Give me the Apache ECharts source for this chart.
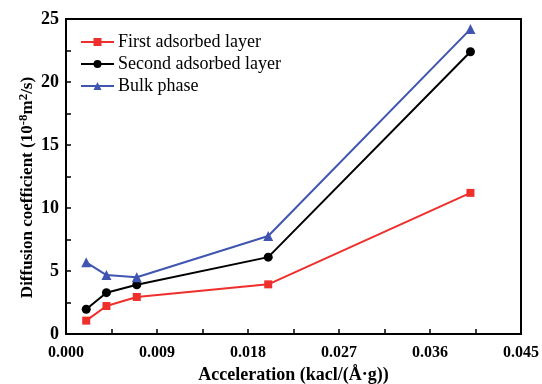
<!DOCTYPE html>
<html>
<head>
<meta charset="utf-8">
<script src="https://cdn.jsdelivr.net/npm/echarts@6/dist/echarts.min.js"></script>
<style>html,body{margin:0;padding:0;background:#fff;}#c{width:542px;height:384px;}</style>
</head>
<body>
<div id="c"></div>
<script>
const xValues = [0.002, 0.004, 0.007, 0.020, 0.040];
const firstLayer = [1.06, 2.22, 2.94, 3.94, 11.2];
const secondLayer = [1.96, 3.28, 3.91, 6.1, 22.4];
const bulkPhase = [5.69, 4.68, 4.5, 7.78, 24.2];
const seriesNames = ['First adsorbed layer', 'Second adsorbed layer', 'Bulk phase'];
const xTicks = [0.000, 0.009, 0.018, 0.027, 0.036, 0.045];

const font = '"Liberation Serif", "Times New Roman", serif';
const pair = (vals) => xValues.map((x, i) => [x, vals[i]]);

const chart = echarts.init(document.getElementById('c'));
chart.setOption({
  animation: false,
  backgroundColor: '#fff',
  grid: { left: 66, right: 21, top: 19, bottom: 50, containLabel: false, outerBoundsMode: 'none',
    show: true, borderColor: '#000', borderWidth: 2, backgroundColor: 'transparent' },
  legend: {
    left: 75, top: 28, orient: 'vertical', itemWidth: 33, itemHeight: 10, itemGap: 4,
    textStyle: { fontFamily: font, fontSize: 18, color: '#000', padding: [0, 0, 0, -1] },
    data: seriesNames
  },
  xAxis: {
    type: 'value', min: 0, max: 0.045, interval: 0.009,
    name: 'Acceleration (kacl/(Å·g))', nameLocation: 'middle', nameGap: 32, nameMoveOverlap: false,
    nameTextStyle: { fontFamily: font, fontSize: 18, fontWeight: 'bold', color: '#000' },
    axisLine: { lineStyle: { color: '#000', width: 2 } },
    axisTick: { inside: true, length: 5, lineStyle: { color: '#000', width: 1.5 } },
    minorTick: { show: true, splitNumber: 2, length: 5, lineStyle: { color: '#000', width: 1.5 } },
    splitLine: { show: false },
    axisLabel: { fontFamily: font, fontSize: 16, fontWeight: 'bold', color: '#000', margin: 11,
      formatter: v => { const i = xTicks.findIndex(t => Math.abs(t - v) < 1e-9); return i >= 0 ? xTicks[i].toFixed(3) : ''; } }
  },
  yAxis: {
    type: 'value', min: 0, max: 25, interval: 5,
    name: 'Diffusion coefficient (10{s|-8}m{s|2}/s)', nameLocation: 'middle', nameGap: 27, nameRotate: 90, nameMoveOverlap: false,
    nameTextStyle: { fontFamily: font, fontSize: 17, fontWeight: 'bold', color: '#000', padding: [0, 22, 0, 0],
      rich: { s: { fontFamily: font, fontSize: 13, fontWeight: 'bold', color: '#000', verticalAlign: 'top', padding: [0, 0, 9, 0] } } },
    axisLine: { lineStyle: { color: '#000', width: 2 } },
    axisTick: { inside: true, length: 5, lineStyle: { color: '#000', width: 1.5 } },
    minorTick: { show: true, splitNumber: 2, length: 5, lineStyle: { color: '#000', width: 1.5 } },
    splitLine: { show: false },
    axisLabel: { fontFamily: font, fontSize: 18, fontWeight: 'bold', color: '#000', margin: 7 }
  },
  series: [
    { name: seriesNames[0], type: 'line', data: pair(firstLayer), symbol: 'rect', symbolSize: 8,
      itemStyle: { color: '#ee2f2b' }, lineStyle: { color: '#ee2f2b', width: 2 } },
    { name: seriesNames[1], type: 'line', data: pair(secondLayer), symbol: 'circle', symbolSize: 9,
      itemStyle: { color: '#000' }, lineStyle: { color: '#000', width: 2 } },
    { name: seriesNames[2], type: 'line', data: pair(bulkPhase), symbol: 'triangle', symbolSize: 10,
      itemStyle: { color: '#3f55b0' }, lineStyle: { color: '#3f55b0', width: 2 } }
  ]
});
</script>
</body>
</html>
